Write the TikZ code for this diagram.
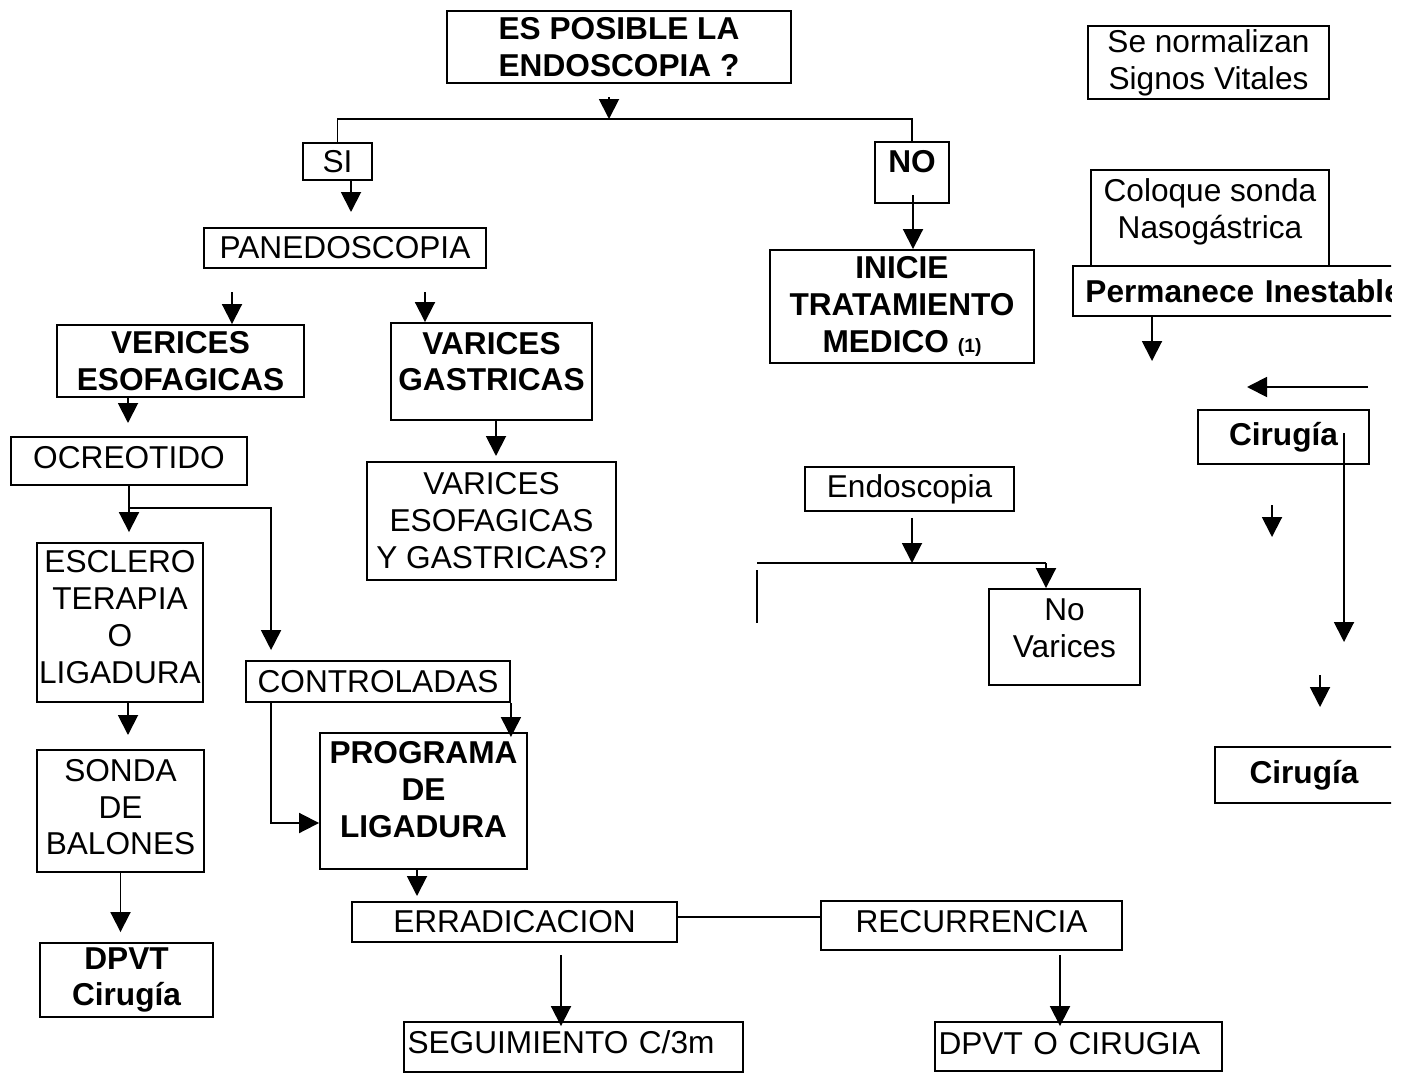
\documentclass[tikz,border=0pt]{standalone}
\usepackage{fontspec}
\setmainfont{Liberation Sans}
\usetikzlibrary{arrows.meta}
\definecolor{cink}{HTML}{000000}
\newcommand{\padbelow}[1]{\rule[-#1]{0pt}{0pt}}
\tikzset{
  every picture/.style={font=\fontsize{18}{21}\selectfont, line width=1.1pt},
  box/.style={draw=cink, text=cink, align=center, inner sep=2pt},
  bbox/.style={box, font=\fontsize{18}{21}\selectfont\bfseries},
  wh/.style 2 args={minimum width=#1cm, minimum height=#2cm},
  arrow/.style={-{Triangle[length=0.4cm, width=0.4cm]}, draw=cink},
  wire/.style={draw=cink},
}

\begin{document}
\begin{tikzpicture}[x=0.02cm, y=-0.02cm]
  \useasboundingbox (0,0) rectangle (1406,1075);
  % question, SI / NO
  \node[bbox, wh={6.88}{1.44}] (ask) at (619,47) {ES POSIBLE LA\\ENDOSCOPIA ?};
  \node[box, wh={1.38}{0.74}] (si) at (337.5,161.5) {SI};
  \node[bbox, wh={1.48}{1.22}] (no) at (912,172.5) {NO\padbelow{0.44cm}};
  % left branch
  \node[box, wh={5.64}{0.8}] (pan) at (345,248) {PANEDOSCOPIA};
  \node[bbox, wh={4.94}{1.44}] (veso) at (180.5,361) {VERICES\\ESOFAGICAS};
  \node[bbox, wh={4.02}{1.94}] (vgas) at (491.5,371.5) {VARICES\\GASTRICAS\padbelow{0.4cm}};
  \node[box, wh={4.72}{0.96}] (ocre) at (129,461) {OCREOTIDO\padbelow{0.16cm}};
  \node[box, wh={4.98}{2.36}] (vmix) at (491.5,521) {VARICES\\ESOFAGICAS\\Y GASTRICAS?};
  \node[box, wh={3.32}{3.18}, inner xsep=0.5pt] (escl) at (120,622.5) {ESCLERO\\TERAPIA\\O\\LIGADURA\padbelow{0.22cm}};
  \node[box, wh={3.34}{2.44}] (sonda) at (120.5,811) {SONDA\\DE\\BALONES\padbelow{0.16cm}};
  \node[bbox, wh={3.46}{1.48}] (dpvt) at (126.5,980) {DPVT\\Cirugía};
  \node[box, wh={5.28}{0.82}] (ctrl) at (378,681.5) {CONTROLADAS};
  \node[bbox, wh={4.14}{2.72}] (prog) at (423.5,801) {PROGRAMA\\DE\\LIGADURA\padbelow{0.46cm}};
  \node[box, wh={6.5}{0.8}] (erra) at (514.5,922) {ERRADICACION};
  \node[box, wh={6.02}{0.98}] (recu) at (971.5,925.5) {RECURRENCIA\padbelow{0.18cm}};
  \node[box, wh={6.78}{1.0}, text width=6.64cm, align=left] (segu) at (573.5,1047) {SEGUIMIENTO C/3m\padbelow{0.18cm}};
  \node[box, wh={5.74}{0.98}, text width=5.6cm, align=left] (dpoc) at (1078.5,1046.5) {DPVT O CIRUGIA\padbelow{0.14cm}};
  % right branch
  \node[bbox, wh={5.28}{2.26}] (med) at (902,306.5) {INICIE\\TRATAMIENTO\\MEDICO {\fontsize{11}{13}\selectfont (1)}};
  \node[box, wh={4.82}{1.42}] (vital) at (1208.5,62.5) {Se normalizan\\Signos Vitales};
  \node[box, wh={4.76}{1.92}] (sng) at (1210,218) {Coloque sonda\\Nasogástrica\padbelow{0.38cm}};
  \node[box, wh={4.18}{0.88}] (endo) at (909.5,489) {Endoscopia};
  \node[box, wh={3.02}{1.92}] (novar) at (1064.5,637) {No\\Varices\padbelow{0.36cm}};
  \node[bbox, wh={3.42}{1.08}] (cir1) at (1283.5,437) {Cirugía};
  \begin{scope}
    \clip (0,0) rectangle (1391,1075);
    \node[bbox, anchor=west, wh={6.9}{1.0}, text width=6.4cm, align=left, inner xsep=0.25cm] (perm) at (1072,291) {Permanece Inestable};
    \node[bbox, wh={3.56}{1.12}] (cir2) at (1304,775) {Cirugía};
  \end{scope}

  % connectors
  \coordinate (askdn) at (609,97);
  \coordinate (split) at (609,119);
  \draw[arrow] (askdn) -- (split);
  \draw[wire] (si.north) |- (split) -| (no.north);
  \coordinate (sitip) at (351,212);
  \draw[arrow] (sitip |- si.south) -- (sitip);
  \coordinate (panl) at (232,292);
  \coordinate (panr) at (425,292);
  \draw[arrow] (panl) -- (panl |- veso.north);
  \draw[arrow] (panr) -- (panr |- vgas.north);
  \coordinate (vesotip) at (128,423);
  \draw[arrow] (vesotip |- veso.south) -- (vesotip);
  \coordinate (vgastip) at (496,456);
  \draw[arrow] (vgastip |- vgas.south) -- (vgastip);
  \draw[arrow, shorten >=0.2cm] (ocre.south) -- (ocre.south |- escl.north);
  \coordinate (ofork) at (129,508);
  \draw[arrow, shorten >=0.2cm] (ofork) -| ([xshift=0.52cm]ctrl.north west);
  \coordinate (escltip) at (128,735);
  \draw[arrow] (escltip |- escl.south) -- (escltip);
  \draw[arrow, shorten >=0.2cm] (sonda.south) -- (sonda.south |- dpvt.north);
  \draw[arrow, shorten >=-0.1cm] (ctrl.south east) -- (ctrl.south east |- prog.north);
  \draw[arrow] ([xshift=0.52cm]ctrl.south west) |- ([yshift=-0.44cm]prog.west);
  \coordinate (progtip) at (417,896);
  \draw[arrow] (progtip |- prog.south) -- (progtip);
  \draw[wire] ([yshift=0.1cm]erra.east) -- ([yshift=0.1cm]erra.east -| recu.west);
  \coordinate (erratop) at (561,955);
  \draw[arrow, shorten >=-0.1cm] (erratop) -- (erratop |- segu.north);
  \coordinate (recutop) at (1060,955);
  \draw[arrow, shorten >=-0.1cm] (recutop) -- (recutop |- dpoc.north);
  \coordinate (noin) at (913,195);
  \draw[arrow] (noin) -- (noin |- med.north);
  % right column
  \coordinate (permtip) at (1152,361);
  \draw[arrow] (permtip |- perm.south) -- (permtip);
  \coordinate (backr) at (1368,387);
  \coordinate (backl) at (1247,387);
  \draw[arrow] (backr) -- (backl);
  \coordinate (cirtop) at (1344,433);
  \coordinate (cirlow) at (1344,642);
  \draw[arrow] (cirtop) -- (cirlow);
  \coordinate (stuba) at (1272,505);
  \coordinate (stubb) at (1320,675);
  \draw[arrow] (stuba) -- ++(0,32);
  \draw[arrow] (stubb) -- ++(0,32);
  % endoscopia split
  \coordinate (barl) at (757,563);
  \coordinate (barmid) at (912,563);
  \coordinate (barr) at (1046,563);
  \draw[arrow, shorten <=0.12cm] (endo.south -| barmid) -- (barmid);
  \draw[wire] (barl) -- (barr);
  \coordinate (legtop) at (757,570);
  \coordinate (legbot) at (757,623);
  \draw[wire] (legtop) -- (legbot);
  \draw[arrow] (barr) -- (barr |- novar.north);
\end{tikzpicture}
\end{document}
